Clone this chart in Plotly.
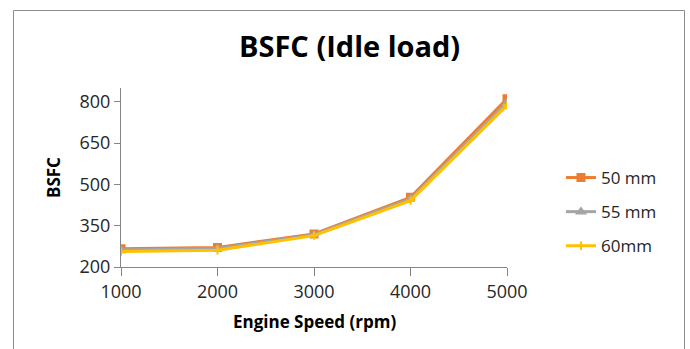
import plotly.graph_objects as go

# Engine speed (rpm) and brake specific fuel consumption at idle load
speed = [1000, 2000, 3000, 4000, 5000]
bsfc_50mm = [266, 271, 320, 453, 811]
bsfc_55mm = [262, 267, 317, 447, 797]
bsfc_60mm = [256, 261, 314, 441, 787]
series_names = ["50 mm", "55 mm", "60mm"]
y_ticks = [200, 350, 500, 650, 800]
x_ticks = [1000, 2000, 3000, 4000, 5000]

colors = ["#ED7D31", "#A5A5A5", "#FFC000"]
symbols = ["square", "triangle-up", "cross-thin"]
FONT = "Open Sans"

fig = go.Figure()
for i, (name, vals) in enumerate(zip(series_names, [bsfc_50mm, bsfc_55mm, bsfc_60mm])):
    fig.add_trace(go.Scatter(
        x=speed, y=vals, name=name, mode="lines+markers",
        legendgroup=name,
        line=dict(color=colors[i], width=3),
        marker=dict(symbol=symbols[i], size=7 if i < 2 else 6, color=colors[i],
                    line=dict(color=colors[i], width=2)),
    ))

W, H = 690, 349
L, R, T, B = 121, 507, 88, 267
pw, ph = R - L, B - T

def px(x):
    return (x - L) / pw

def py(y):
    return (B - y) / ph

fig.update_layout(
    width=W, height=H,
    margin=dict(l=L, r=W - R, t=T, b=H - B),
    paper_bgcolor="white", plot_bgcolor="white",
    font=dict(family=FONT, color="#262626", size=16),
    showlegend=True,
    legend=dict(
        x=px(561), y=py(160), xanchor="left", yanchor="top",
        font=dict(size=17, color="#262626"),
        traceorder="grouped", tracegroupgap=9,
        bgcolor="rgba(0,0,0,0)",
    ),
    xaxis=dict(
        range=[1000, 5000], tickvals=x_ticks, showgrid=False, zeroline=False,
        showline=True, linecolor="#868686", linewidth=1,
        ticks="outside", ticklen=8, tickcolor="#868686",
        tickfont=dict(size=18), fixedrange=True,
    ),
    yaxis=dict(
        range=[200, 850], tickvals=y_ticks, showgrid=False, zeroline=False,
        showline=True, linecolor="#868686", linewidth=1,
        ticks="outside", ticklen=6, tickcolor="#868686",
        tickfont=dict(size=18), fixedrange=True,
    ),
    annotations=[
        dict(text="<b>BSFC (Idle load)</b>", x=px(349), y=py(45), xref="paper", yref="paper",
             showarrow=False, font=dict(size=29, color="black"), xanchor="center", yanchor="middle"),
        dict(text="<b>Engine Speed (rpm)</b>", x=px(314), y=py(321), xref="paper", yref="paper",
             showarrow=False, font=dict(size=17, color="black"), xanchor="center", yanchor="middle"),
        dict(text="<b>BSFC</b>", x=px(53), y=py(178), xref="paper", yref="paper", textangle=-90,
             showarrow=False, font=dict(size=17, color="black"), xanchor="center", yanchor="middle"),
    ],
    shapes=[
        dict(type="rect", xref="paper", yref="paper",
             x0=px(13.5), x1=px(684.5), y0=py(10.5), y1=py(400),
             line=dict(color="#8C8C8C", width=1), fillcolor="rgba(0,0,0,0)", layer="below"),
    ],
)

fig.write_html("out.html")
